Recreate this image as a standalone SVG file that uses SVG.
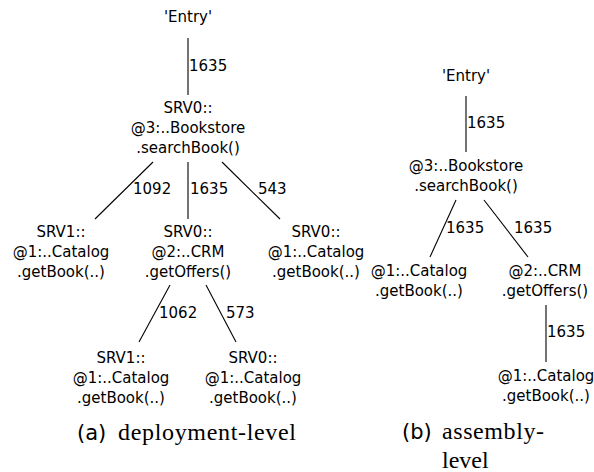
<svg xmlns="http://www.w3.org/2000/svg" width="594" height="472" viewBox="0 0 594 472">
<style>
text{font-family:"DejaVu Sans","Verdana",sans-serif;font-size:15px;fill:#000}
.n{text-anchor:middle}
.e line{stroke:#000;stroke-width:1.1}
.cap{font-family:"Liberation Serif","Times New Roman",serif;font-size:24px}
.capl{font-family:"DejaVu Sans",sans-serif;font-size:21px}
</style>
<rect width="594" height="472" fill="#fff"/>
<g id="connectors" class="e">
<line x1="188" y1="38" x2="188" y2="95"/>
<line x1="153" y1="162" x2="95" y2="219"/>
<line x1="188" y1="162" x2="188" y2="219"/>
<line x1="222" y1="162" x2="280" y2="219"/>
<line x1="170" y1="285" x2="139" y2="342"/>
<line x1="206" y1="285" x2="236" y2="342"/>
<line x1="466" y1="96" x2="466" y2="152"/>
<line x1="456" y1="200" x2="430" y2="257"/>
<line x1="484" y1="200" x2="528" y2="257"/>
<line x1="546" y1="305" x2="546" y2="362"/>
</g>
<g id="edge-labels">
<text x="189" y="71">1635</text>
<text x="133" y="194">1092</text>
<text x="190" y="194">1635</text>
<text x="258" y="194">543</text>
<text x="159" y="318">1062</text>
<text x="226" y="318">573</text>
<text x="467" y="128">1635</text>
<text x="446" y="233">1635</text>
<text x="514" y="233">1635</text>
<text x="547" y="337">1635</text>
</g>
<g id="a-entry"><text class="n" x="188" y="22">'Entry'</text></g>
<g id="a-root"><text class="n" x="188" y="113"><tspan x="188">SRV0::</tspan><tspan x="188" dy="20">@3:..Bookstore</tspan><tspan x="188" dy="20">.searchBook()</tspan></text></g>
<g id="a-cat1"><text class="n" x="61" y="237"><tspan x="61">SRV1::</tspan><tspan x="61" dy="20">@1:..Catalog</tspan><tspan x="61" dy="20">.getBook(..)</tspan></text></g>
<g id="a-crm"><text class="n" x="188" y="237"><tspan x="188">SRV0::</tspan><tspan x="188" dy="20">@2:..CRM</tspan><tspan x="188" dy="20">.getOffers()</tspan></text></g>
<g id="a-cat0"><text class="n" x="316" y="237"><tspan x="316">SRV0::</tspan><tspan x="316" dy="20">@1:..Catalog</tspan><tspan x="316" dy="20">.getBook(..)</tspan></text></g>
<g id="a-cat1b"><text class="n" x="121" y="363"><tspan x="121">SRV1::</tspan><tspan x="121" dy="20">@1:..Catalog</tspan><tspan x="121" dy="20">.getBook(..)</tspan></text></g>
<g id="a-cat0b"><text class="n" x="253" y="363"><tspan x="253">SRV0::</tspan><tspan x="253" dy="20">@1:..Catalog</tspan><tspan x="253" dy="20">.getBook(..)</tspan></text></g>
<g id="b-entry"><text class="n" x="466" y="81">'Entry'</text></g>
<g id="b-root"><text class="n" x="466" y="171"><tspan x="466">@3:..Bookstore</tspan><tspan x="466" dy="20">.searchBook()</tspan></text></g>
<g id="b-cat"><text class="n" x="419" y="276"><tspan x="419">@1:..Catalog</tspan><tspan x="419" dy="20">.getBook(..)</tspan></text></g>
<g id="b-crm"><text class="n" x="545" y="276"><tspan x="545">@2:..CRM</tspan><tspan x="545" dy="20">.getOffers()</tspan></text></g>
<g id="b-cat2"><text class="n" x="546" y="381"><tspan x="546">@1:..Catalog</tspan><tspan x="546" dy="20">.getBook(..)</tspan></text></g>
<g id="captions">
<text class="capl" x="77" y="440">(a)</text>
<text class="cap" x="118" y="440" textLength="178" lengthAdjust="spacing">deployment-level</text>
<text class="capl" x="402" y="439">(b)</text>
<text class="cap" x="442" y="439" textLength="102" lengthAdjust="spacing">assembly-</text>
<text class="cap" x="442" y="468">level</text>
</g>
</svg>
